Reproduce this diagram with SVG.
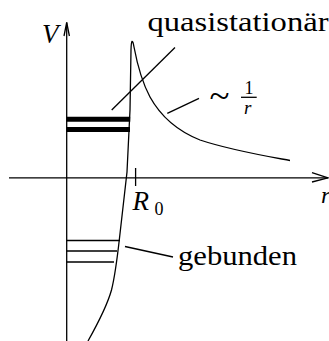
<svg xmlns="http://www.w3.org/2000/svg" width="329" height="341" viewBox="0 0 329 341">
<rect width="329" height="341" fill="#fff"/>
<g id="connectors" fill="none" stroke="#000" stroke-width="1.3">
<path d="M66.7,341 V22.5"/>
<path d="M64,36 L66.7,22.5 L69.4,36"/>
<path d="M9,177.8 H328"/>
<path d="M312,172.7 L328,177.8 L312,182"/>
<path d="M135.6,168 V186"/>
<path d="M88,341 C97,325 107,306 111.5,290 C115,276 117.5,256 119.5,238 L127,172 L130,110 L131,50 C131.3,39 132.6,39 134,47 C137,63 142,82 150,97 C160,115 175,130 200,140 C230,150 260,155 290,160.5"/>
<path stroke-width="5" d="M66.7,119.3 H130.2 M66.7,129.5 H130"/>
<path d="M66.7,240.5 H120 M66.7,251 H117 M66.7,262 H114"/>
<path d="M111.7,110 L175,47.5"/>
<path d="M167.3,113.3 L199,98.3"/>
<path d="M125,246.5 L173,257"/>
<path d="M241,97.3 H256.7"/>
</g>
<g font-family="Liberation Serif" fill="#000">
<g id="label-V"><text x="42" y="43" font-size="27" font-style="italic">V</text></g>
<g id="label-quasi"><text x="147.5" y="30.5" font-size="27" textLength="181" lengthAdjust="spacingAndGlyphs">quasistationär</text></g>
<g id="label-sim"><text x="209.5" y="108" font-size="36" textLength="20" lengthAdjust="spacingAndGlyphs">~</text>
<text x="244.5" y="93.5" font-size="18">1</text>
<text x="244" y="114" font-size="19" font-style="italic">r</text></g>
<g id="label-R0"><text x="132.5" y="210" font-size="27" font-style="italic">R</text><text x="154.5" y="215" font-size="18">0</text></g>
<g id="label-r"><text x="321" y="203.3" font-size="24" font-style="italic">r</text></g>
<g id="label-gebunden"><text x="178" y="265" font-size="27" textLength="119" lengthAdjust="spacingAndGlyphs">gebunden</text></g>
</g>
</svg>
